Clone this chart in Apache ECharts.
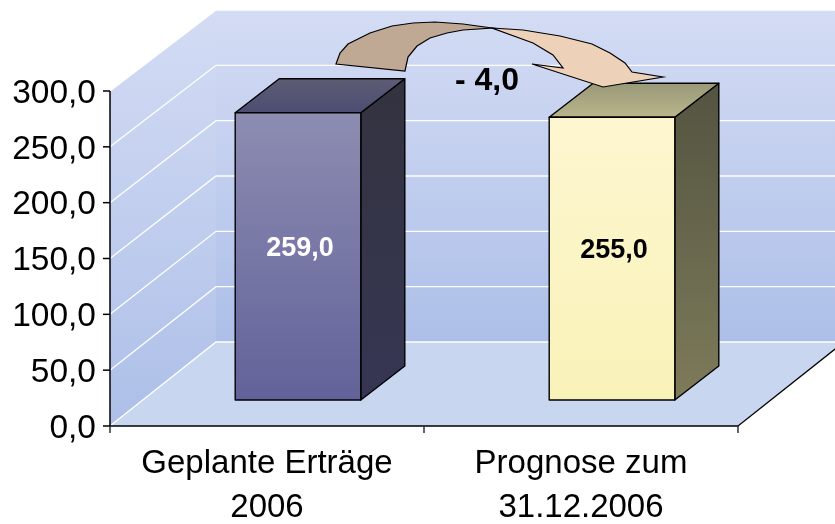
<!DOCTYPE html>
<html>
<head>
<meta charset="utf-8">
<title>Erträge 2006</title>
<script src="https://cdn.jsdelivr.net/npm/echarts@6/dist/echarts.min.js"></script>
<style>
html,body{margin:0;padding:0;background:#fff;}
#main{width:835px;height:524px;}
</style>
</head>
<body>
<div id="main"></div>
<script>
var categories = ['Geplante Erträge\n2006', 'Prognose zum\n31.12.2006'];
var values = [259.0, 255.0];
var deltaText = '- 4,0';
var valueTicks = [0, 50, 100, 150, 200, 250, 300];

var barFaces = [
    {front: ['#8d8cb1', '#62629a'], top: ['#5d5d75', '#4c4c72'], side: ['#33333f', '#363654'], text: '#fff'},
    {front: ['#fdf6d0', '#f9f2b8'], top: ['#999878', '#b9b68c'], side: ['#535340', '#7e7b5a'], text: '#000'}
];
var font = '"Liberation Sans", Arial, sans-serif';

var chart = echarts.init(document.getElementById('main'));

function grad(c) {
    return new echarts.graphic.LinearGradient(0, 0, 0, 1, [
        {offset: 0, color: c[0]},
        {offset: 1, color: c[1]}
    ]);
}
function fmt(v) {
    return v.toFixed(1).replace('.', ',');
}
//front wall height to back wall height
function backY(y, base) {
    return y - 84 + (base - y) * 0.009;
}

function renderWalls(params, api) {
    var g = params.coordSys;
    var left = g.x, right = g.x + g.width, base = g.y + g.height, top = g.y;
    var dx = 106;
    var bBase = backY(base, base), bTop = backY(top, base);
    var wallFill = new echarts.graphic.LinearGradient(0, 0, 0, 1, [
        {offset: 0, color: '#d4dcf4'},
        {offset: 1, color: '#adbfe8'}
    ]);
    var axisStroke = {stroke: '#000', lineWidth: 1.5};
    var children = [
        {type: 'polygon', shape: {points: [[left, top], [left + dx, bTop], [left + dx, bBase], [left, base]]}, style: {fill: wallFill}},
        {type: 'polygon', shape: {points: [[left + dx, bTop], [right + dx, bTop], [right + dx, bBase], [left + dx, bBase]]}, style: {fill: wallFill}},
        {type: 'polygon', shape: {points: [[left, base], [right, base], [right + dx, bBase], [left + dx, bBase]]}, style: {fill: '#c8d6f0'}}
    ];
    //gridlines run over both walls
    for (var i = 0; i < valueTicks.length; i++) {
        var y = api.coord([0, valueTicks[i]])[1];
        var by = backY(y, base);
        children.push({
            type: 'polyline',
            shape: {points: [[left, y], [left + dx, by], [right + dx, by]]},
            style: {fill: null, stroke: '#fff', lineWidth: 1.3}
        });
    }
    //value axis line and ticks go on top of the wall
    for (var k = 0; k < valueTicks.length; k++) {
        var ty = api.coord([0, valueTicks[k]])[1];
        children.push({type: 'line', shape: {x1: left - 7, y1: ty, x2: left, y2: ty}, style: axisStroke});
    }
    children.push({type: 'line', shape: {x1: left, y1: top, x2: left, y2: base}, style: axisStroke});
    children.push({
        type: 'line',
        shape: {x1: right, y1: base, x2: right + dx, y2: bBase},
        style: {stroke: '#000', lineWidth: 1.2}
    });
    return {type: 'group', children: children};
}

function renderBar(params, api) {
    var i = api.value(0);
    var v = api.value(1);
    var face = barFaces[i];
    var bottom = api.coord([i, 0]);
    var topPt = api.coord([i, v]);
    var w = api.size([1, 0])[0] * 0.4;
    var ox = 31, oy = -26, dx = 44, dy = -34;
    var x0 = bottom[0] + ox - w / 2, x1 = x0 + w;
    //bars sit on a slightly tighter scale than the front ticks
    var y0 = bottom[1] + oy, y1 = y0 - (bottom[1] - topPt[1]) * 0.993;
    var line = {stroke: '#000', lineWidth: 1.4, lineJoin: 'round'};
    return {
        type: 'group',
        children: [
            {type: 'polygon', shape: {points: [[x1, y0], [x1 + dx, y0 + dy], [x1 + dx, y1 + dy], [x1, y1]]},
                style: Object.assign({fill: grad(face.side)}, line)},
            {type: 'polygon', shape: {points: [[x0, y1], [x1, y1], [x1 + dx, y1 + dy], [x0 + dx, y1 + dy]]},
                style: Object.assign({fill: grad(face.top)}, line)},
            {type: 'rect', shape: {x: x0, y: y1, width: w, height: y0 - y1},
                style: Object.assign({fill: grad(face.front)}, line)},
            {type: 'text', x: (x0 + x1) / 2 + 2, y: (y0 + y1) / 2 - 8,
                style: {text: fmt(v), fill: face.text, font: 'bold 27px ' + font, align: 'center', verticalAlign: 'middle'}}
        ]
    };
}

var option = {
    animation: false,
    backgroundColor: '#fff',
    grid: {left: 110, right: 97, top: 91, bottom: 98, outerBoundsMode: 'none'},
    xAxis: {
        type: 'category',
        data: categories,
        z: 5,
        axisLine: {show: true, onZero: false, lineStyle: {color: '#000', width: 1.5}},
        axisTick: {show: true, length: 7, lineStyle: {color: '#333', width: 1.5}},
        axisLabel: {color: '#000', fontSize: 33, fontFamily: font, lineHeight: 44, margin: 16, interval: 0}
    },
    yAxis: {
        type: 'value', position: 'left', min: 0, max: 300, interval: 50, z: 5,
        axisLine: {show: false},
        axisTick: {show: false},
        splitLine: {show: false},
        axisLabel: {
            color: '#000', margin: 14,
            formatter: function (v) { return '{t|' + fmt(v) + '}'; },
            rich: {t: {fontSize: 33.5, fontFamily: font, color: '#000', padding: [5, 0, 0, 0]}}
        }
    },
    series: [
        {type: 'custom', z: 1, silent: true, clip: false, renderItem: renderWalls, data: [[0, 0]]},
        {
            type: 'custom', z: 3, clip: false, renderItem: renderBar,
            encode: {x: 0, y: 1},
            data: values.map(function (v, i) { return [i, v]; })
        }
    ],
    graphic: [
        {type: 'polygon', z: 10, shape: {points: [[492, 28], [523, 30], [560, 36], [592, 44], [610, 53], [625, 63], [632, 72], [663, 77], [603, 87], [532, 64], [563, 68], [553, 55], [533, 43]]},
            style: {fill: '#edd1b8', stroke: '#000', lineWidth: 1.2}},
        {type: 'polygon', z: 10, shape: {points: [[336, 64], [340, 53], [348, 44], [370, 33], [392, 26], [413, 23], [435, 22], [463, 24], [492, 28], [463, 30], [447, 33], [430, 38], [417, 46], [408, 57], [405, 71]]},
            style: {fill: '#bfa894', stroke: '#000', lineWidth: 1.2}},
        {type: 'text', z: 10, left: 455, top: 65, style: {text: deltaText, fill: '#000', font: 'bold 32px ' + font}}
    ]
};
chart.setOption(option);
</script>
</body>
</html>
